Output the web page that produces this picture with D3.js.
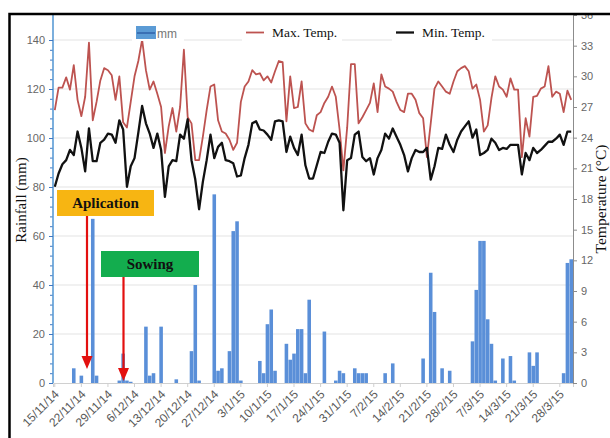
<!DOCTYPE html>
<html>
<head>
<meta charset="utf-8">
<script src="https://cdn.jsdelivr.net/npm/d3@7/dist/d3.min.js"></script>
<style>
  html, body { margin: 0; padding: 0; background: #fff; }
  svg { display: block; }
</style>
</head>
<body>
<svg id="chart" width="610" height="438"></svg>
<script>
// Daily weather, 15 Nov 2014 – 31 Mar 2015
const startDay = new Date(2014, 10, 15);
const endDay = new Date(2015, 3, 1);

// Daily rainfall (mm)
const rainfall = [
  0, 0, 0, 0, 0, 6, 0, 3, 0, 0,
  67, 3, 0, 0, 0, 0, 0, 1, 12, 1,
  0.5, 0, 0, 0, 23, 3, 4, 0, 23, 0,
  0, 0, 1.5, 0, 0, 0, 13, 40, 1, 0,
  0, 0, 77, 5, 6, 0, 13, 62, 66, 1,
  0, 0, 0, 0, 9, 4, 24, 30, 5, 0,
  0, 16, 9.5, 12, 22, 22, 4, 34, 0, 0,
  0, 21, 0, 0, 1, 5, 4, 0, 0, 6,
  4, 4, 4, 0, 0, 0, 0, 4, 0, 8,
  0, 0, 0, 0, 0, 0, 0, 10, 0, 45,
  29, 0, 6, 0, 5, 0, 0, 0, 0, 0,
  17, 38, 58, 58, 26, 16, 1, 0, 10, 0,
  11, 1, 0, 0, 0, 12.5, 7, 12.5, 0, 0,
  0, 0, 0, 0, 4, 49, 50.5
];

// Daily maximum temperature (°C)
const maxTemp = [
  26.7, 28.9, 28.9, 29.9, 28.7, 31.1, 27.7, 26.1, 28.0, 33.3,
  25.7, 27.5, 29.6, 30.8, 30.6, 30.1, 27.7, 30.0, 25.5, 25.0,
  27.5, 30.0, 31.5, 33.6, 30.6, 28.7, 29.5, 28.3, 27.0, 22.5,
  25.1, 26.9, 24.6, 27.0, 32.6, 26.0, 25.4, 21.8, 21.8, 24.1,
  26.7, 29.0, 29.2, 25.7, 24.6, 24.4, 23.8, 22.8, 23.5, 27.5,
  29.0, 29.5, 30.6, 30.2, 30.3, 29.6, 30.0, 29.4, 30.5, 31.5,
  31.4, 25.6, 30.0, 26.9, 27.0, 29.5, 25.4, 24.8, 24.6, 26.2,
  26.5, 27.4, 28.0, 29.0, 28.0, 24.8, 20.8, 25.0, 31.2, 31.2,
  25.4, 26.0, 26.7, 27.4, 29.3, 26.5, 30.2, 29.0, 28.8, 28.5,
  27.5, 26.7, 26.5, 28.3, 28.3, 27.7, 26.4, 25.9, 22.1, 25.4,
  28.8, 29.5, 29.0, 28.5, 28.3, 29.5, 30.5, 30.8, 31.0, 30.5,
  28.8, 29.2, 27.7, 24.6, 25.2, 27.9, 30.0, 29.0, 28.7, 28.0,
  29.8, 28.7, 28.7, 22.1, 25.9, 24.1, 28.0, 28.1, 28.8, 29.0,
  31.0, 28.0, 28.5, 28.3, 26.5, 28.6, 27.7
];

// Daily minimum temperature (°C)
const minTemp = [
  19.2, 20.5, 21.4, 21.8, 22.8, 22.3, 24.6, 23.0, 20.7, 24.9,
  21.7, 21.7, 23.5, 23.8, 24.4, 24.3, 23.5, 25.7, 24.8, 19.2,
  21.2, 22.0, 24.5, 27.1, 25.4, 24.4, 23.0, 24.4, 22.8, 18.2,
  21.2, 21.8, 21.7, 24.3, 23.9, 25.8, 21.8, 19.9, 17.0, 19.7,
  21.8, 24.3, 22.0, 23.1, 23.5, 21.8, 21.7, 21.5, 20.2, 20.3,
  22.0, 23.3, 25.4, 25.6, 24.8, 24.7, 24.3, 23.8, 25.6, 25.7,
  25.6, 22.6, 24.1, 23.0, 22.3, 24.3, 21.3, 20.0, 20.0, 21.3,
  22.6, 22.5, 23.6, 24.4, 24.3, 23.5, 16.9, 21.8, 22.0, 24.3,
  24.6, 22.1, 21.7, 22.0, 20.4, 22.0, 22.8, 24.4, 23.9, 24.9,
  24.1, 23.3, 22.3, 20.7, 22.0, 22.8, 22.6, 22.6, 23.0, 19.9,
  21.2, 23.0, 22.9, 24.3, 23.3, 22.6, 23.8, 24.6, 25.1, 25.6,
  24.0, 24.8, 22.3, 22.5, 22.8, 23.9, 23.5, 22.8, 23.0, 22.9,
  23.3, 23.3, 23.3, 20.4, 22.5, 21.8, 23.0, 22.5, 22.8, 23.2,
  23.6, 23.6, 23.9, 24.3, 23.3, 24.6, 24.6
];

// Weekly date labels on the category axis
const dateTicks = [
  "15/11/14", "22/11/14", "29/11/14", "6/12/14", "13/12/14", "20/12/14",
  "27/12/14", "3/1/15", "10/1/15", "17/1/15", "24/1/15", "31/1/15",
  "7/2/15", "14/2/15", "21/2/15", "28/2/15", "7/3/15", "14/3/15",
  "21/3/15", "28/3/15"
];
const rainTicks = [0, 20, 40, 60, 80, 100, 120, 140];
const tempTicks = [0, 3, 6, 9, 12, 15, 18, 21, 24, 27, 30, 33, 36];

// Field operations marked on the timeline
const events = [
  { label: "Aplication", fill: "#f7b512" },
  { label: "Sowing", fill: "#13ad4e" }
];

const fmt = d3.timeFormat("%-d/%-m/%y");
const days = d3.timeDay.range(startDay, endDay).map(fmt);

const svg = d3.select("#chart");
const plotL = 53, plotR = 573, plotT = 15, plotB = 383;

const x = d3.scaleBand().domain(days).range([plotL, plotR]).paddingInner(0.06);
const yRain = d3.scaleLinear().domain([0, 150]).range([plotB, plotB - 150 * 2.45]);
const yTemp = d3.scaleLinear().domain([0, 36]).range([plotB, plotT]);
const cx = d => x(d) + x.bandwidth() / 2;

// Horizontal gridlines on the rainfall scale
svg.append("g")
  .selectAll("line")
  .data(rainTicks.slice(1))
  .join("line")
  .attr("x1", plotL).attr("x2", plotR)
  .attr("y1", d => yRain(d)).attr("y2", d => yRain(d))
  .attr("stroke", "#e3e3e3").attr("stroke-width", 1);

// Rainfall bars
svg.append("g")
  .selectAll("rect")
  .data(days.map((d, i) => ({ d, v: rainfall[i] })).filter(e => e.v > 0))
  .join("rect")
  .attr("x", e => x(e.d))
  .attr("width", x.bandwidth())
  .attr("y", e => yRain(e.v))
  .attr("height", e => plotB - yRain(e.v))
  .attr("fill", "#5a8fd8");

// Temperature lines
const line = d3.line().x((v, i) => cx(days[i])).y(v => yTemp(v));
svg.append("path").datum(maxTemp)
  .attr("d", line).attr("fill", "none")
  .attr("stroke", "#bd5350").attr("stroke-width", 1.8).attr("stroke-linejoin", "round");
svg.append("path").datum(minTemp)
  .attr("d", line).attr("fill", "none")
  .attr("stroke", "#111").attr("stroke-width", 2.3).attr("stroke-linejoin", "round");

// Bottom date axis
const xAxis = svg.append("g")
  .attr("transform", `translate(0,${plotB})`)
  .call(d3.axisBottom(x).tickValues(dateTicks).tickSize(4).tickFormat(d => d));
xAxis.select(".domain").attr("stroke", "#d0d0d0");
xAxis.selectAll(".tick line").attr("stroke", "#cfcfcf");
xAxis.selectAll(".tick text")
  .attr("font-family", "Liberation Sans, Arial, sans-serif")
  .attr("font-size", 12)
  .attr("fill", "#595959")
  .attr("text-anchor", "end")
  .attr("transform", "translate(5,12) rotate(-45)")
  .attr("x", 0).attr("y", 0).attr("dy", 0);

// Left rainfall axis (blue) with minor ticks
const minor = d3.range(0, 141, 4);
const yMinor = svg.append("g")
  .attr("transform", `translate(${plotL},0)`)
  .call(d3.axisLeft(yRain).tickValues(minor).tickSize(3).tickFormat(""));
yMinor.selectAll(".tick line").attr("stroke", "#3f78c4");
yMinor.select(".domain").remove();
const yLeft = svg.append("g")
  .attr("transform", `translate(${plotL},0)`)
  .call(d3.axisLeft(yRain).tickValues(rainTicks).tickSize(4).tickPadding(4));
yLeft.select(".domain").attr("d", `M0,${plotB}V${plotT}`).attr("stroke", "#5b9bd5").attr("stroke-width", 1.6);
yLeft.selectAll(".tick line").attr("stroke", "#3f78c4");
yLeft.selectAll(".tick text")
  .attr("font-family", "Liberation Sans, Arial, sans-serif")
  .attr("font-size", 11).attr("fill", "#666");

// Right temperature axis
const yRight = svg.append("g")
  .attr("transform", `translate(${plotR},0)`)
  .call(d3.axisRight(yTemp).tickValues(tempTicks).tickSize(4).tickPadding(4));
yRight.select(".domain").attr("stroke", "#8c8c8c");
yRight.selectAll(".tick line").attr("stroke", "#8c8c8c");
yRight.selectAll(".tick text")
  .attr("font-family", "Liberation Sans, Arial, sans-serif")
  .attr("font-size", 11).attr("fill", "#666");

// Axis titles
svg.append("text")
  .attr("transform", "translate(26,200) rotate(-90)")
  .attr("text-anchor", "middle")
  .attr("font-family", "Liberation Serif, 'Times New Roman', serif")
  .attr("font-size", 15).attr("fill", "#111")
  .text("Rainfall (mm)");
svg.append("text")
  .attr("transform", "translate(606,199) rotate(-90)")
  .attr("text-anchor", "middle")
  .attr("font-family", "Liberation Serif, 'Times New Roman', serif")
  .attr("font-size", 15.5).attr("fill", "#111")
  .text("Temperature (°C)");

// Legend
const legend = svg.append("g");
legend.append("rect").attr("x", 132).attr("y", 24).attr("width", 52).attr("height", 17).attr("fill", "#fff");
legend.append("rect").attr("x", 136).attr("y", 26).attr("width", 20).attr("height", 13).attr("fill", "#5b9bd5");
legend.append("line").attr("x1", 137).attr("x2", 155).attr("y1", 33).attr("y2", 33)
  .attr("stroke", "#2f62a8").attr("stroke-width", 1.5);
legend.append("text").attr("x", 157).attr("y", 37.5)
  .attr("font-family", "Liberation Sans, Arial, sans-serif").attr("font-size", 12).attr("fill", "#777")
  .text("mm");
const lineKeys = [
  { label: "Max. Temp.", color: "#bd5350", x: 246, w: 1.8 },
  { label: "Min. Temp.", color: "#111", x: 396, w: 2.3 }
];
lineKeys.forEach(k => {
  legend.append("rect").attr("x", k.x - 4).attr("y", 24).attr("width", 100).attr("height", 17).attr("fill", "#fff");
  legend.append("line").attr("x1", k.x).attr("x2", k.x + 18).attr("y1", 32.5).attr("y2", 32.5)
    .attr("stroke", k.color).attr("stroke-width", k.w);
  legend.append("text").attr("x", k.x + 26).attr("y", 37)
    .attr("font-family", "Liberation Serif, 'Times New Roman', serif").attr("font-size", 13.5).attr("fill", "#111")
    .text(k.label);
});

// Event callouts with arrows down to the date
const boxes = [
  { x: 57, y: 190, w: 97, h: 26, ax: 87, tip: 369 },
  { x: 101, y: 251, w: 98, h: 26, ax: 123.5, tip: 381 }
];
events.forEach((ev, i) => {
  const b = boxes[i];
  const g = svg.append("g");
  g.append("line").attr("x1", b.ax).attr("x2", b.ax).attr("y1", b.y + b.h).attr("y2", b.tip - 10)
    .attr("stroke", "#e3100f").attr("stroke-width", 2.2);
  g.append("path")
    .attr("d", `M${b.ax - 5.5},${b.tip - 13}L${b.ax + 5.5},${b.tip - 13}L${b.ax},${b.tip}Z`)
    .attr("fill", "#e3100f");
  g.append("rect").attr("x", b.x).attr("y", b.y).attr("width", b.w).attr("height", b.h).attr("fill", ev.fill);
  g.append("text").attr("x", b.x + b.w / 2).attr("y", b.y + b.h / 2 + 5)
    .attr("text-anchor", "middle")
    .attr("font-family", "Liberation Serif, 'Times New Roman', serif")
    .attr("font-weight", "bold").attr("font-size", 15).attr("fill", "#111")
    .text(ev.label);
});

// Outer frame
svg.append("rect").attr("x", 0).attr("y", 0).attr("width", 610).attr("height", 15).attr("fill", "#fff");
svg.append("rect").attr("x", 9.5).attr("y", 14).attr("width", 700).attr("height", 500)
  .attr("fill", "none").attr("stroke", "#000").attr("stroke-width", 2.5);
</script>
</body>
</html>
